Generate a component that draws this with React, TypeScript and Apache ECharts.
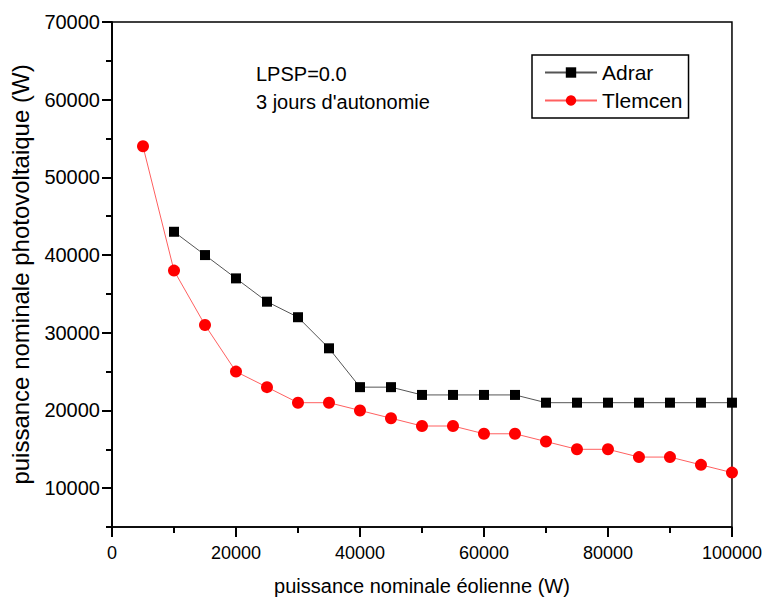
import React, { useEffect, useRef } from "react";
import * as echarts from "echarts";

const xValues = [5000, 10000, 15000, 20000, 25000, 30000, 35000, 40000, 45000, 50000, 55000, 60000, 65000, 70000, 75000, 80000, 85000, 90000, 95000, 100000];
const adrarX = xValues.slice(1);
const adrarY = [43000, 40000, 37000, 34000, 32000, 28000, 23000, 23000, 22000, 22000, 22000, 22000, 21000, 21000, 21000, 21000, 21000, 21000, 21000];
const tlemcenY = [54000, 38000, 31000, 25000, 23000, 21000, 21000, 20000, 19000, 18000, 18000, 17000, 17000, 16000, 15000, 15000, 14000, 14000, 13000, 12000];
const yMajorTicks = [10000, 20000, 30000, 40000, 50000, 60000, 70000];
const yMinorTicks = [5000, 15000, 25000, 35000, 45000, 55000, 65000];
const annotations = ["LPSP=0.0", "3 jours d'autonomie"];

const FONT = "'Liberation Sans', Arial, sans-serif";

export default function App() {
  const ref = useRef<HTMLDivElement>(null);
  useEffect(() => {
    const chart = echarts.init(ref.current!, null, { renderer: "svg" });
    const tickStyle = { color: "#000", width: 2 };
    const lineStyle = { color: "#000", width: 1.5 };
    chart.setOption({
      animation: false,
      backgroundColor: "#fff",
      textStyle: { fontFamily: FONT },
      grid: { left: 111, right: 32, top: 22, bottom: 81, show: true, borderColor: "#000", borderWidth: 1.5, backgroundColor: "transparent" },
      legend: {
        left: 532,
        top: 55,
        orient: "vertical",
        borderColor: "#000",
        borderWidth: 1.5,
        padding: [7, 6, 7, 12],
        itemGap: 7,
        itemWidth: 52,
        itemHeight: 13,
        textStyle: { fontFamily: FONT, fontSize: 21, color: "#000" },
        data: ["Adrar", "Tlemcen"],
      },
      graphic: [
        { type: "text", left: 256, top: 64, style: { text: annotations[0], font: `20px ${FONT}`, fill: "#000" } },
        { type: "text", left: 256, top: 92, style: { text: annotations[1], font: `20px ${FONT}`, fill: "#000" } },
      ],
      xAxis: {
        type: "value",
        min: 0,
        max: 100000,
        interval: 20000,
        name: "puissance nominale éolienne (W)",
        nameLocation: "middle",
        nameGap: 49,
        nameTextStyle: { fontFamily: FONT, fontSize: 20, color: "#000" },
        axisLine: { show: true, onZero: false, lineStyle },
        axisTick: { show: true, length: 10, lineStyle: tickStyle },
        minorTick: { show: true, splitNumber: 2, length: 6, lineStyle: tickStyle },
        axisLabel: { fontFamily: FONT, fontSize: 18, color: "#000", margin: 17, formatter: (v: number) => String(v) },
        splitLine: { show: false },
        minorSplitLine: { show: false },
      },
      yAxis: [
        {
          type: "value",
          min: 5000,
          max: 70000,
          name: "puissance nominale photovoltaique (W)",
          nameLocation: "middle",
          nameGap: 80,
          nameTextStyle: { fontFamily: FONT, fontSize: 24, color: "#000" },
          axisLine: { show: true, onZero: false, lineStyle },
          axisTick: { show: true, length: 10, customValues: yMajorTicks, lineStyle: tickStyle },
          axisLabel: { fontFamily: FONT, fontSize: 20, color: "#000", margin: 12, customValues: yMajorTicks, formatter: (v: number) => String(v) },
          splitLine: { show: false },
        },
        {
          type: "value",
          min: 5000,
          max: 70000,
          position: "left",
          axisLine: { show: true, onZero: false, lineStyle },
          axisTick: { show: true, length: 6, customValues: yMinorTicks, lineStyle: tickStyle },
          axisLabel: { show: false },
          splitLine: { show: false },
        },
      ],
      series: [
        {
          name: "Adrar",
          type: "line",
          data: adrarX.map((x, i) => [x, adrarY[i]]),
          symbol: "rect",
          symbolSize: 10,
          itemStyle: { color: "#000" },
          lineStyle: { color: "#555", width: 1 },
          z: 3,
        },
        {
          name: "Tlemcen",
          type: "line",
          data: xValues.map((x, i) => [x, tlemcenY[i]]),
          symbol: "circle",
          symbolSize: 12,
          itemStyle: { color: "#ff0000" },
          lineStyle: { color: "#ff6060", width: 1 },
          z: 4,
        },
      ],
    });
    return () => chart.dispose();
  }, []);
  return <div ref={ref} style={{ width: 765, height: 608, position: "absolute", left: 0, top: 0 }} />;
}
